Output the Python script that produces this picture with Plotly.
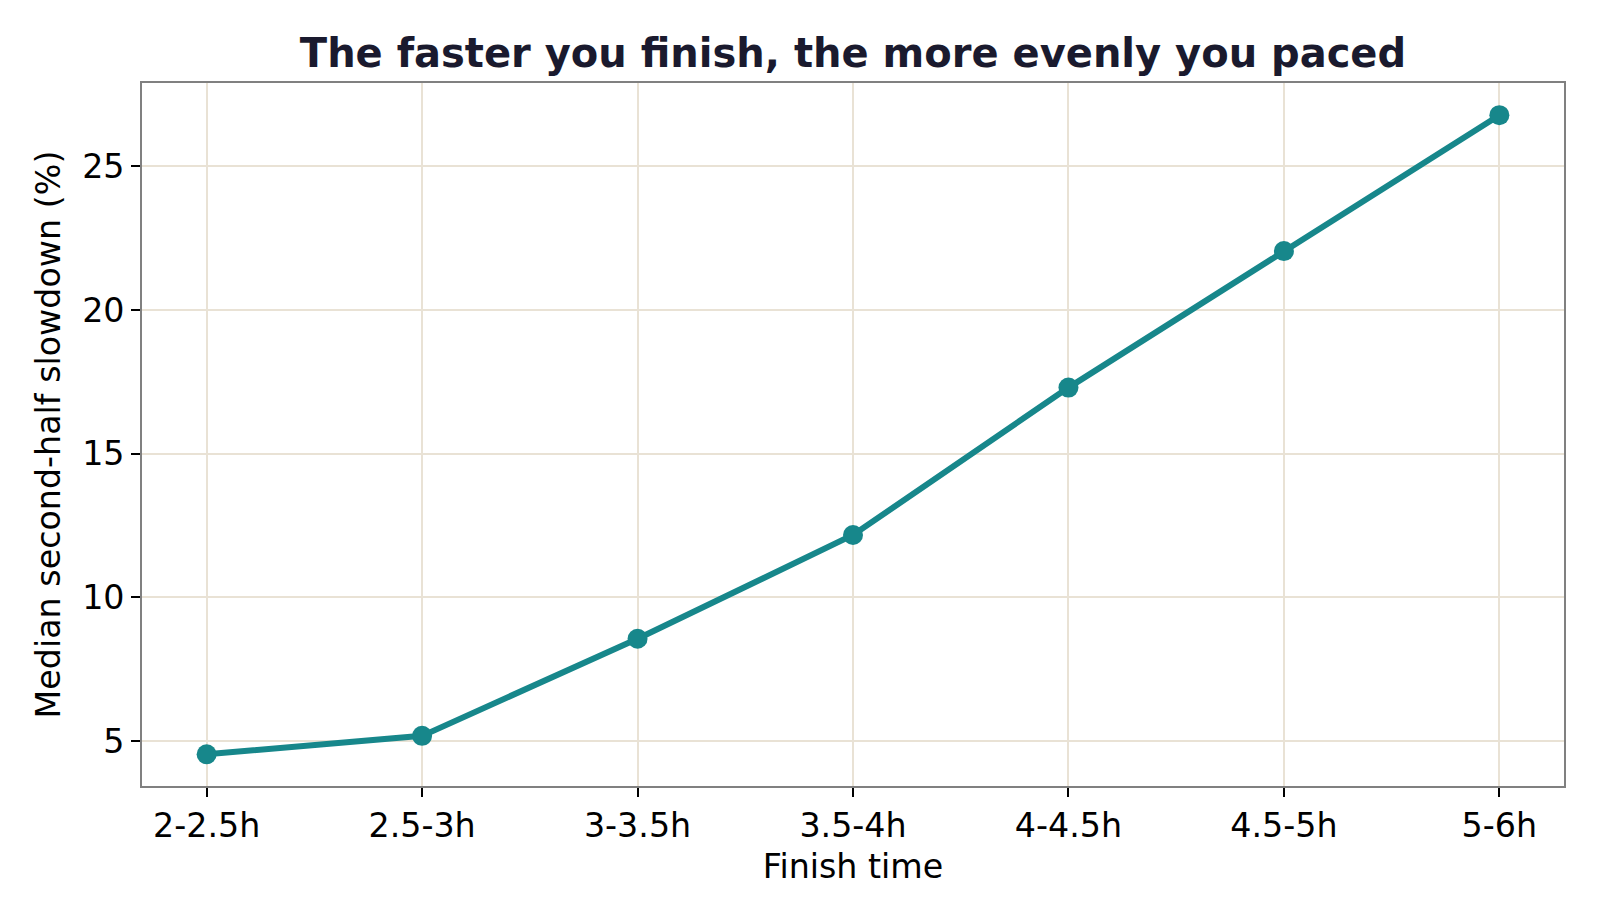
import plotly.graph_objects as go

categories = ["2-2.5h", "2.5-3h", "3-3.5h", "3.5-4h", "4-4.5h", "4.5-5h", "5-6h"]
slowdown = [4.54, 5.18, 8.56, 12.17, 17.30, 22.05, 26.78]
y_ticks = [5, 10, 15, 20, 25]

TEAL = "#17878b"
FONT = "DejaVu Sans"
FS = 33.3

fig = go.Figure()
fig.add_trace(go.Scatter(
    x=list(range(len(categories))), y=slowdown, mode="lines+markers",
    line=dict(color=TEAL, width=6),
    marker=dict(color=TEAL, size=20),
    showlegend=False,
))

fig.update_layout(
    width=1600, height=919,
    margin=dict(l=142, r=36, t=83, b=133),
    paper_bgcolor="white", plot_bgcolor="white",
    font=dict(family=FONT, size=FS, color="black"),
    title=dict(
        text="<b>The faster you finish, the more evenly you paced</b>",
        x=(142 + 1564) / 2 / 1600, xanchor="center",
        y=1 - 53 / 919, yanchor="middle",
        font=dict(family=FONT, size=40, color="#1a1a2e"),
    ),
)

axis_common = dict(
    showline=True, linecolor="#808080", linewidth=1.6, mirror=True,
    showgrid=True, gridcolor="#e9e2d5", gridwidth=1.6,
    ticks="outside", ticklen=9, tickwidth=1.6, tickcolor="black",
    zeroline=False,
    tickfont=dict(family=FONT, size=FS, color="black"),
)

fig.update_xaxes(
    **axis_common,
    range=[-0.3, 6.3],
    tickmode="array", tickvals=list(range(len(categories))), ticktext=categories,
    title=dict(text="Finish time", font=dict(family=FONT, size=FS, color="black"), standoff=11),
)
fig.update_yaxes(
    **axis_common,
    range=[3.435, 27.9],
    tickmode="array", tickvals=y_ticks, ticktext=[str(v) for v in y_ticks],
    title=dict(text="Median second-half slowdown (%)", font=dict(family=FONT, size=FS, color="black"), standoff=12),
)

fig.write_html("out.html")
